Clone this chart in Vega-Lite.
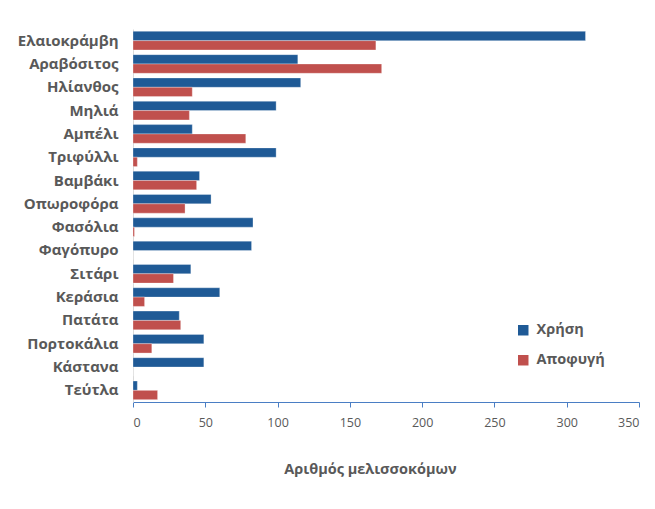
{
  "$schema": "https://vega.github.io/schema/vega-lite/v6.json",
  "width": 506,
  "height": 373,
  "autosize": {"type": "none"},
  "padding": {"left": 133, "top": 29, "right": 16, "bottom": 107},
  "background": "white",
  "config": {"view": {"stroke": null}, "font": "Open Sans"},
  "data": {
    "values": [
      {"crop": "Ελαιοκράμβη", "series": "Χρήση", "value": 313},
      {"crop": "Ελαιοκράμβη", "series": "Αποφυγή", "value": 168},
      {"crop": "Αραβόσιτος", "series": "Χρήση", "value": 114},
      {"crop": "Αραβόσιτος", "series": "Αποφυγή", "value": 172},
      {"crop": "Ηλίανθος", "series": "Χρήση", "value": 116},
      {"crop": "Ηλίανθος", "series": "Αποφυγή", "value": 41},
      {"crop": "Μηλιά", "series": "Χρήση", "value": 99},
      {"crop": "Μηλιά", "series": "Αποφυγή", "value": 39},
      {"crop": "Αμπέλι", "series": "Χρήση", "value": 41},
      {"crop": "Αμπέλι", "series": "Αποφυγή", "value": 78},
      {"crop": "Τριφύλλι", "series": "Χρήση", "value": 99},
      {"crop": "Τριφύλλι", "series": "Αποφυγή", "value": 3},
      {"crop": "Βαμβάκι", "series": "Χρήση", "value": 46},
      {"crop": "Βαμβάκι", "series": "Αποφυγή", "value": 44},
      {"crop": "Οπωροφόρα", "series": "Χρήση", "value": 54},
      {"crop": "Οπωροφόρα", "series": "Αποφυγή", "value": 36},
      {"crop": "Φασόλια", "series": "Χρήση", "value": 83},
      {"crop": "Φασόλια", "series": "Αποφυγή", "value": 1},
      {"crop": "Φαγόπυρο", "series": "Χρήση", "value": 82},
      {"crop": "Φαγόπυρο", "series": "Αποφυγή", "value": 0},
      {"crop": "Σιτάρι", "series": "Χρήση", "value": 40},
      {"crop": "Σιτάρι", "series": "Αποφυγή", "value": 28},
      {"crop": "Κεράσια", "series": "Χρήση", "value": 60},
      {"crop": "Κεράσια", "series": "Αποφυγή", "value": 8},
      {"crop": "Πατάτα", "series": "Χρήση", "value": 32},
      {"crop": "Πατάτα", "series": "Αποφυγή", "value": 33},
      {"crop": "Πορτοκάλια", "series": "Χρήση", "value": 49},
      {"crop": "Πορτοκάλια", "series": "Αποφυγή", "value": 13},
      {"crop": "Κάστανα", "series": "Χρήση", "value": 49},
      {"crop": "Κάστανα", "series": "Αποφυγή", "value": 0},
      {"crop": "Τεύτλα", "series": "Χρήση", "value": 3},
      {"crop": "Τεύτλα", "series": "Αποφυγή", "value": 17}
    ]
  },
  "mark": {"type": "bar", "stroke": "white", "strokeWidth": 0.5, "strokeOpacity": 0.6},
  "encoding": {
    "y": {
      "field": "crop",
      "type": "nominal",
      "sort": null,
      "scale": {"paddingInner": 0.2, "paddingOuter": 0.1},
      "axis": {
        "title": null,
        "ticks": false,
        "domainColor": "#D9D9D9",
        "labelFont": "Open Sans",
        "labelFontSize": 15,
        "labelFontWeight": "bold",
        "labelColor": "#595959",
        "labelPadding": 15
      }
    },
    "yOffset": {"field": "series", "type": "nominal", "sort": ["Χρήση", "Αποφυγή"]},
    "x": {
      "field": "value",
      "type": "quantitative",
      "scale": {"domain": [0, 350], "nice": false},
      "axis": {
        "values": [0, 50, 100, 150, 200, 250, 300, 350],
        "grid": false,
        "domainColor": "#4A7EC4",
        "tickColor": "#4A7EC4",
        "tickSize": 5,
        "labelFont": "Open Sans",
        "labelFontSize": 12.5,
        "labelColor": "#595959",
        "labelPadding": 9,
        "title": "Αριθμός μελισσοκόμων",
        "titleFont": "Open Sans",
        "titleFontSize": 14.5,
        "titleFontWeight": "bold",
        "titleColor": "#595959",
        "titlePadding": 34,
        "titleX": 237
      }
    },
    "color": {
      "field": "series",
      "type": "nominal",
      "sort": ["Χρήση", "Αποφυγή"],
      "scale": {"domain": ["Χρήση", "Αποφυγή"], "range": ["#1F5A96", "#C0504D"]},
      "legend": {
        "title": null,
        "orient": "none",
        "legendX": 383,
        "legendY": 294,
        "symbolType": "square",
        "symbolSize": 110,
        "symbolStrokeWidth": 0,
        "labelFont": "Open Sans",
        "labelFontSize": 14.5,
        "labelFontWeight": "bold",
        "labelColor": "#595959",
        "labelOffset": 6,
        "rowPadding": 15
      }
    }
  }
}
